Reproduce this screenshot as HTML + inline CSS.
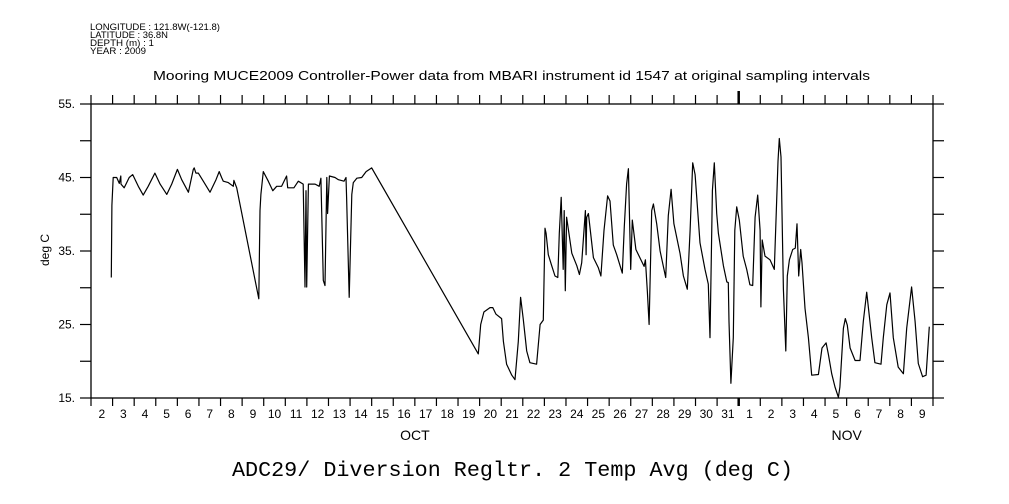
<!DOCTYPE html>
<html><head><meta charset="utf-8"><style>
body{margin:0;background:#fff}
svg{display:block}
text{font-family:"Liberation Sans",sans-serif;fill:#000}
</style></head><body>
<svg id="chart" width="1009" height="504" viewBox="0 0 1009 504" xmlns="http://www.w3.org/2000/svg">
<g font-size="9">
<text x="90" y="30" textLength="130" lengthAdjust="spacingAndGlyphs">LONGITUDE : 121.8W(-121.8)</text>
<text x="90" y="38" textLength="78" lengthAdjust="spacingAndGlyphs">LATITUDE : 36.8N</text>
<text x="90" y="46" textLength="64" lengthAdjust="spacingAndGlyphs">DEPTH (m) : 1</text>
<text x="90" y="54" textLength="56" lengthAdjust="spacingAndGlyphs">YEAR : 2009</text>
</g>
<text x="153" y="80" font-size="12.5" textLength="717" lengthAdjust="spacingAndGlyphs">Mooring MUCE2009 Controller-Power data from MBARI instrument id 1547 at original sampling intervals</text>
<text x="232" y="476" font-size="21" textLength="561" lengthAdjust="spacingAndGlyphs" style="font-family:'Liberation Mono',monospace">ADC29/ Diversion Regltr. 2 Temp Avg (deg C)</text>
<text transform="translate(49,250) rotate(-90)" font-size="12" text-anchor="middle">deg C</text>
<rect x="91" y="104" width="842" height="294" fill="none" stroke="#000" stroke-width="1.3"/>
<g id="axes"></g>
<g id="series"></g>
</svg>
<script>
const dayOffsets=[0.94,0.97,1.03,1.19,1.31,1.38,1.39,1.54,1.77,1.93,2.19,2.42,2.65,2.96,3.20,3.51,3.74,4.00,4.20,4.51,4.74,4.78,4.86,4.97,5.20,5.51,5.79,5.94,6.05,6.13,6.36,6.59,6.62,6.75,7.77,7.83,7.87,7.98,8.21,8.42,8.60,8.83,9.06,9.11,9.40,9.60,9.83,9.91,9.96,9.99,10.07,10.38,10.57,10.65,10.76,10.84,10.92,10.96,11.04,11.30,11.46,11.72,11.81,11.84,11.96,12.08,12.15,12.31,12.54,12.74,13.00,17.94,18.05,18.20,18.48,18.61,18.76,19.02,19.10,19.25,19.49,19.64,19.79,19.90,20.02,20.18,20.33,20.64,20.80,20.95,21.03,21.08,21.18,21.34,21.49,21.62,21.69,21.78,21.87,21.92,21.97,22.03,22.27,22.50,22.62,22.73,22.90,22.93,22.96,23.04,23.27,23.50,23.62,23.76,23.93,24.04,24.19,24.35,24.61,24.70,24.81,24.89,25.00,25.07,25.24,25.62,25.68,25.77,25.85,25.97,26.05,26.20,26.36,26.62,26.74,26.87,27.00,27.28,27.44,27.62,27.75,27.87,27.98,28.21,28.44,28.59,28.67,28.78,28.87,28.98,29.06,29.29,29.45,29.52,29.55,29.64,29.75,29.82,29.91,30.03,30.21,30.37,30.52,30.65,30.76,30.88,30.99,31.03,31.09,31.22,31.45,31.65,31.73,31.82,31.88,31.96,32.07,32.18,32.25,32.35,32.50,32.62,32.70,32.78,32.87,32.93,33.07,33.23,33.38,33.69,33.86,34.05,34.15,34.31,34.46,34.62,34.69,34.85,34.94,35.03,35.16,35.39,35.62,35.77,35.93,36.16,36.31,36.59,36.70,36.86,37.01,37.16,37.39,37.63,37.78,38.01,38.17,38.32,38.52,38.68,38.83];
const tempValues=[31.4,41.2,45.0,45.0,44.2,45.2,44.1,43.6,45.0,45.4,43.8,42.6,43.8,45.6,44.1,42.7,44.1,46.1,44.7,43.0,46.1,46.3,45.6,45.6,44.5,43.0,44.7,45.8,45.0,44.5,44.3,43.8,44.6,43.6,28.5,40.5,42.7,45.8,44.5,43.2,43.8,43.8,45.2,43.6,43.6,44.5,44.1,30.1,43.2,30.1,44.1,44.1,43.8,44.9,31.0,30.3,45.0,40.1,45.2,45.0,44.7,44.5,45.0,42.3,28.7,42.7,44.3,44.9,45.0,45.8,46.3,21.0,25.0,26.7,27.3,27.3,26.4,25.8,22.7,19.6,18.1,17.5,22.7,28.7,25.8,21.4,19.8,19.6,25.0,25.6,38.1,37.4,34.5,33.0,31.6,31.4,37.4,42.3,32.5,40.5,29.6,39.6,34.7,33.0,31.8,33.4,40.5,34.5,39.6,40.1,34.1,32.7,31.6,37.8,42.5,41.8,35.8,34.5,32.0,38.3,44.1,46.2,32.5,39.2,35.2,32.9,33.8,29.4,25.0,40.5,41.4,38.7,35.0,31.4,39.8,43.4,38.7,34.7,31.6,29.8,37.8,47.0,45.4,36.1,32.5,30.5,23.2,43.2,47.0,40.1,37.4,33.0,30.8,30.7,25.4,17.0,23.2,37.8,41.0,39.2,34.3,32.5,30.4,30.3,39.6,42.6,37.8,27.4,36.5,34.3,33.8,32.5,39.2,47.2,50.3,47.8,29.8,21.4,31.6,33.8,35.2,35.4,38.7,31.6,35.2,33.4,27.2,23.2,18.1,18.2,21.8,22.5,21.0,18.3,16.5,15.1,16.5,24.5,25.8,24.9,21.8,20.1,20.1,25.4,29.4,23.2,19.8,19.6,23.2,27.7,29.3,23.2,19.2,18.3,24.5,30.1,25.4,19.7,17.9,18.1,24.7];
const dayLabels=["2","3","4","5","6","7","8","9","10","11","12","13","14","15","16","17","18","19","20","21","22","23","24","25","26","27","28","29","30","31","1","2","3","4","5","6","7","8","9"];
const yTickValues=[15,20,25,30,35,40,45,50,55];
const yLabelValues=[15,25,35,45,55];
const monthLabels=["OCT","NOV"];
const monthCenters=[15,35];

const X0=91,X1=933,Y0=398,Y1=104,NDAYS=39,YMIN=15,YMAX=55;
const xs=d=>X0+d*(X1-X0)/NDAYS;
const ys=v=>Y0-(v-YMIN)*(Y0-Y1)/(YMAX-YMIN);
const NS="http://www.w3.org/2000/svg";
const axes=document.getElementById('axes');
function mk(tag,attrs,parent){const e=document.createElementNS(NS,tag);for(const k in attrs)e.setAttribute(k,attrs[k]);parent.appendChild(e);return e;}

for(let i=0;i<=NDAYS;i++){
  const x=xs(i);const thick=(i===30);
  const t1=mk('line',{x1:x,x2:x,y1:Y0,y2:Y0+8,stroke:'#000','stroke-width':thick?2.5:1.2},axes);
  
  
  const t2=mk('line',{x1:x,x2:x,y1:Y1,y2:Y1-(thick?13:9),stroke:'#000','stroke-width':thick?2.5:1.2},axes);
  
  
}
dayLabels.forEach((lab,i)=>{
  const t=mk('text',{x:xs(i+0.5),y:418,'font-size':12,'text-anchor':'middle'},axes);
  t.textContent=lab;
  
  
});
monthLabels.forEach((m,i)=>{
  const t=mk('text',{x:xs(monthCenters[i]),y:440,'font-size':14,'text-anchor':'middle'},axes);
  t.textContent=m;
  
  
});
yTickValues.forEach(v=>{
  const y=ys(v);
  const a=mk('line',{x1:X0-11,x2:X0,y1:y,y2:y,stroke:'#000','stroke-width':1.2},axes);
  
  
  const b=mk('line',{x1:X1,x2:X1+11,y1:y,y2:y,stroke:'#000','stroke-width':1.2},axes);
  
  
});
yLabelValues.forEach(v=>{
  const t=mk('text',{x:75,y:ys(v)+4,'font-size':12,'text-anchor':'end'},axes);
  t.textContent=v+'.';
  
  
});
const pts=dayOffsets.map((d,i)=>xs(d).toFixed(1)+','+ys(tempValues[i]).toFixed(1)).join(' ');
const line=mk('polyline',{points:pts,fill:'none',stroke:'#000','stroke-width':1.2,'stroke-linejoin':'round'},document.getElementById('series'));


</script>
</body></html>
